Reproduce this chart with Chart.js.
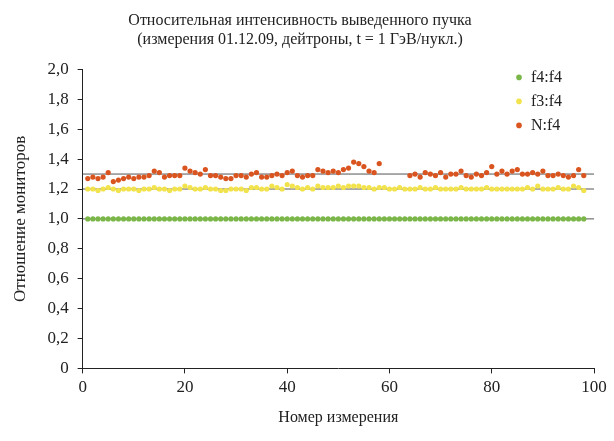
<!DOCTYPE html>
<html><head><meta charset="utf-8">
<script src="https://cdn.jsdelivr.net/npm/chart.js@4"></script>
<style>body{margin:0;background:#fff}#w{width:614px;height:441px}</style>
</head><body><div id="w"><canvas id="c"></canvas></div>
<script>
const xs = Array.from({length:98},(_,i)=>i+1);
const nf4 = [1.27,1.28,1.27,1.28,1.31,1.25,1.26,1.27,1.28,1.27,1.28,1.28,1.29,1.32,1.31,1.28,1.29,1.29,1.29,1.34,1.32,1.31,1.30,1.33,1.29,1.29,1.28,1.27,1.27,1.29,1.29,1.28,1.30,1.31,1.28,1.28,1.29,1.30,1.29,1.31,1.32,1.29,1.28,1.29,1.29,1.33,1.32,1.31,1.32,1.31,1.33,1.34,1.38,1.37,1.35,1.32,1.31,1.37,null,null,null,null,null,1.29,1.30,1.28,1.31,1.30,1.29,1.31,1.28,1.30,1.30,1.32,1.29,1.28,1.30,1.29,1.31,1.35,1.30,1.32,1.30,1.32,1.33,1.30,1.30,1.31,1.30,1.32,1.29,1.29,1.30,1.29,1.28,1.29,1.33,1.29];
const f3f4 = [1.20,1.20,1.19,1.20,1.21,1.20,1.19,1.20,1.20,1.20,1.19,1.20,1.20,1.21,1.20,1.20,1.19,1.20,1.20,1.22,1.21,1.20,1.20,1.21,1.20,1.20,1.19,1.19,1.20,1.20,1.20,1.19,1.21,1.21,1.20,1.20,1.22,1.21,1.20,1.23,1.22,1.21,1.20,1.21,1.20,1.22,1.21,1.21,1.21,1.22,1.21,1.22,1.22,1.22,1.21,1.21,1.20,1.21,1.21,1.20,1.20,1.21,1.20,1.20,1.20,1.21,1.20,1.20,1.21,1.20,1.20,1.20,1.20,1.21,1.20,1.20,1.20,1.20,1.21,1.20,1.20,1.20,1.20,1.20,1.20,1.20,1.21,1.20,1.22,1.20,1.20,1.20,1.21,1.20,1.20,1.22,1.21,1.19];
const f4f4 = xs.map(()=>1.00);
const refLines = [1.0,1.2,1.3];
const pts = a => xs.map((x,i)=>({x, y:a[i]}));
const ds = [
 {label:'f4:f4', data:pts(f4f4), backgroundColor:'#7ab648', borderColor:'#7ab648'},
 {label:'f3:f4', data:pts(f3f4), backgroundColor:'#f2e34c', borderColor:'#f2e34c'},
 {label:'N:f4', data:pts(nf4), backgroundColor:'#d9541e', borderColor:'#d9541e'}
].map(d=>Object.assign(d,{showLine:false,pointRadius:2.6,pointBorderWidth:0,order:1}));
refLines.forEach(v=>ds.push({label:'ref',data:[{x:0,y:v},{x:100,y:v}],showLine:true,borderColor:'#555',borderWidth:1,pointRadius:0,order:2}));
const legendPlugin={id:'lg',afterDraw(ch){const c=ch.ctx,a=ch.chartArea;c.save();c.font='16px "Liberation Serif", serif';c.textBaseline='middle';
 ch.data.datasets.slice(0,3).forEach((d,i)=>{const y=a.top+8+i*24,x=a.right-75;c.fillStyle=d.backgroundColor;c.beginPath();c.arc(x,y,2.8,0,7);c.fill();c.fillStyle='#222';c.fillText(d.label,x+12,y);});c.restore();}};
Chart.defaults.font.family='"Liberation Serif", serif';
Chart.defaults.color='#222';
const gridOpt={display:true,drawOnChartArea:false,tickLength:5,color:'#222'};
new Chart(document.getElementById('c'),{type:'scatter',data:{datasets:ds},plugins:[legendPlugin],options:{
 responsive:true,maintainAspectRatio:false,animation:false,
 layout:{padding:{right:20,left:6,bottom:10}},
 plugins:{title:{display:true,text:['Относительная интенсивность выведенного пучка','(измерения 01.12.09, дейтроны, t = 1 ГэВ/нукл.)'],font:{size:16,weight:'normal'},padding:{top:11,bottom:20},lineHeight:1.15},
  legend:{display:false},tooltip:{enabled:false}},
 scales:{
  x:{type:'linear',min:0,max:100,ticks:{stepSize:20,font:{size:17},padding:4},grid:gridOpt,border:{color:'#222'},
    title:{display:true,text:'Номер измерения',font:{size:16},padding:{top:6}}},
  y:{min:0,max:2,ticks:{stepSize:0.2,font:{size:17},padding:9,callback:v=>v===0?'0':v.toFixed(1).replace('.',',')},grid:gridOpt,border:{color:'#222'},
    title:{display:true,text:'Отношение мониторов',font:{size:17},padding:{bottom:8}}}
 }}});
</script></body></html>
